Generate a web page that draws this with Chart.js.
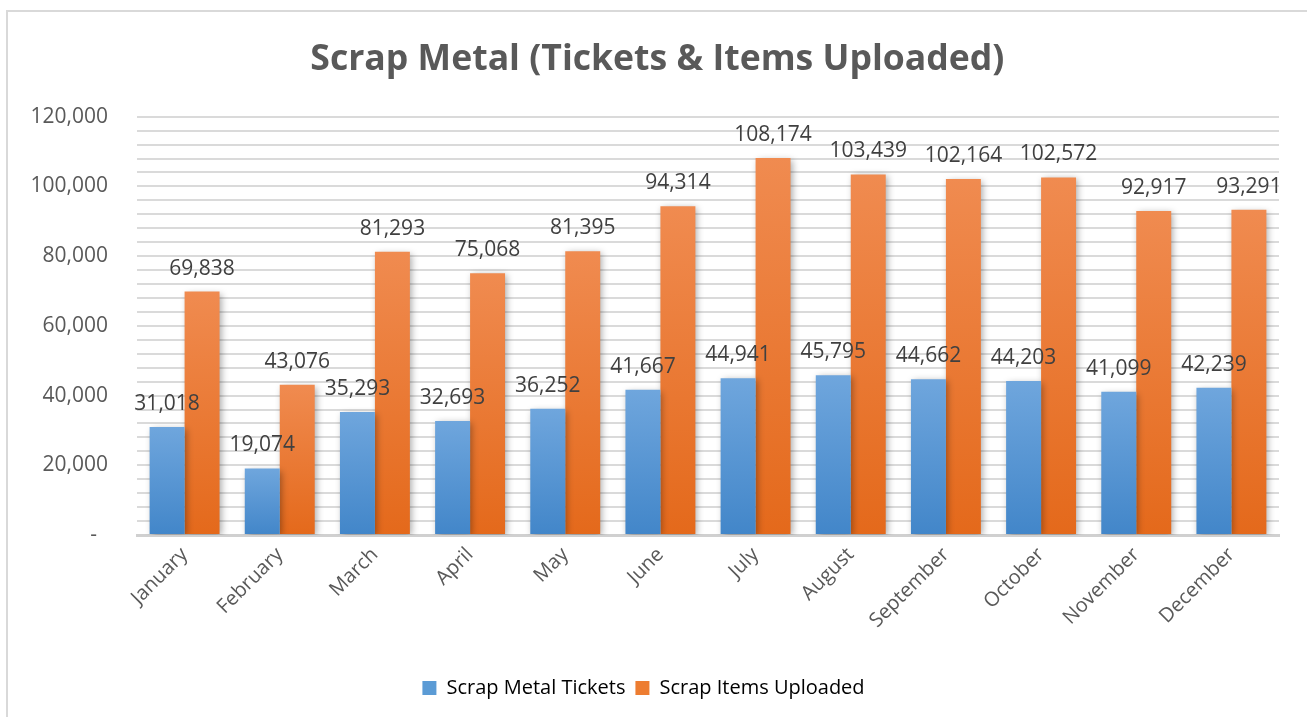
<!DOCTYPE html>
<html>
<head>
<meta charset="utf-8">
<script src="https://cdn.jsdelivr.net/npm/chart.js@4"></script>
<style>
  html, body { margin: 0; padding: 0; background: #fff; overflow: hidden; }
  #wrap {
    position: absolute; left: 6px; top: 10px;
    width: 1299px; height: 705px;
    border-left: 2px solid #d9d9d9; border-top: 2px solid #d9d9d9;
  }
</style>
</head>
<body>
<div id="wrap"><canvas id="scrapChart"></canvas></div>
<script>
const months = ["January", "February", "March", "April", "May", "June",
  "July", "August", "September", "October", "November", "December"];
const tickets = [31018, 19074, 35293, 32693, 36252, 41667, 44941, 45795, 44662, 44203, 41099, 42239];
const itemsUploaded = [69838, 43076, 81293, 75068, 81395, 94314, 108174, 103439, 102164, 102572, 92917, 93291];
const yTicks = [0, 20000, 40000, 60000, 80000, 100000, 120000];

Chart.defaults.font.family = "'Open Sans', sans-serif";
Chart.defaults.color = "#595959";

// gradient per bar, light at the top, darker at the base
function barGradient(top, bottom, fallback) {
  return function (c) {
    const chart = c.chart;
    if (!chart.chartArea || c.type !== "data") return fallback;
    const y = chart.scales.y;
    const y0 = y.getPixelForValue(c.parsed.y);
    const y1 = y.getPixelForValue(0);
    if (!isFinite(y0) || y1 - y0 < 1) return fallback;
    const g = chart.ctx.createLinearGradient(0, y0, 0, y1);
    g.addColorStop(0, top);
    g.addColorStop(1, bottom);
    return g;
  };
}

const shadowPlugin = {
  id: "barShadow",
  beforeDatasetsDraw(chart) {
    const ctx = chart.ctx;
    ctx.save();
    ctx.shadowColor = "rgba(0,0,0,0.35)";
    ctx.shadowBlur = 7;
    ctx.shadowOffsetX = 2;
    ctx.shadowOffsetY = 2;
  },
  afterDatasetsDraw(chart) {
    chart.ctx.restore();
  }
};

const valueLabels = {
  id: "valueLabels",
  afterDraw(chart) {
    const ctx = chart.ctx;
    ctx.save();
    ctx.font = "21px 'Open Sans', sans-serif";
    ctx.fillStyle = "#404040";
    ctx.textAlign = "center";
    ctx.textBaseline = "middle";
    chart.data.datasets.forEach((ds, i) => {
      chart.getDatasetMeta(i).data.forEach((bar, j) => {
        ctx.fillText(ds.data[j].toLocaleString("en-US"), bar.x, bar.y - 23);
      });
    });
    ctx.restore();
  }
};

new Chart(document.getElementById("scrapChart"), {
  type: "bar",
  data: {
    labels: months,
    datasets: [
      {
        label: "Scrap Metal Tickets",
        data: tickets,
        backgroundColor: barGradient("#6fa6dd", "#4286c9", "#5b9bd5"),
        borderWidth: 0,
      },
      {
        label: "Scrap Items Uploaded",
        data: itemsUploaded,
        backgroundColor: barGradient("#f08b50", "#e4691b", "#ed7d31"),
        borderWidth: 0,
      },
    ],
  },
  options: {
    responsive: true,
    maintainAspectRatio: false,
    animation: false,
    layout: { padding: { left: 0, right: 28, top: 0, bottom: 9 } },
    datasets: { bar: { categoryPercentage: 0.735, barPercentage: 1 } },
    plugins: {
      tooltip: { enabled: false },
      title: {
        display: true,
        text: "   Scrap Metal (Tickets & Items Uploaded)",
        color: "#595959",
        font: { size: 35.6, weight: "bold" },
        padding: { top: 26, bottom: 36 },
      },
      legend: {
        position: "bottom",
        labels: {
          color: "#595959",
          font: { size: 20 },
          boxWidth: 14,
          boxHeight: 14,
          padding: 10,
          generateLabels(chart) {
            const solid = ["#5b9bd5", "#ed7d31"];
            return chart.data.datasets.map((ds, i) => ({
              text: ds.label,
              fillStyle: solid[i],
              strokeStyle: solid[i],
              lineWidth: 0,
              datasetIndex: i,
              hidden: false,
            }));
          },
        },
      },
    },
    scales: {
      x: {
        grid: { display: false, drawTicks: false },
        border: { display: true, color: "#d0d0d0", width: 3 },
        ticks: {
          color: "#595959",
          font: { size: 20 },
          minRotation: 45,
          maxRotation: 45,
          padding: 8,
        },
        afterFit(scale) { scale.height = 133; },
      },
      y: {
        min: 0,
        max: 120000,
        grid: { color: "#dadada", lineWidth: 2, drawTicks: false },
        border: { display: false },
        ticks: {
          stepSize: 4000,
          autoSkip: false,
          color: "#595959",
          font: { size: 21 },
          padding: 29,
          callback(v) {
            if (!yTicks.includes(v)) return "";
            return v === 0 ? "-  " : v.toLocaleString("en-US");
          },
        },
        afterFit(scale) { scale.width = 129; },
      },
    },
  },
  plugins: [shadowPlugin, valueLabels],
});
</script>
</body>
</html>
